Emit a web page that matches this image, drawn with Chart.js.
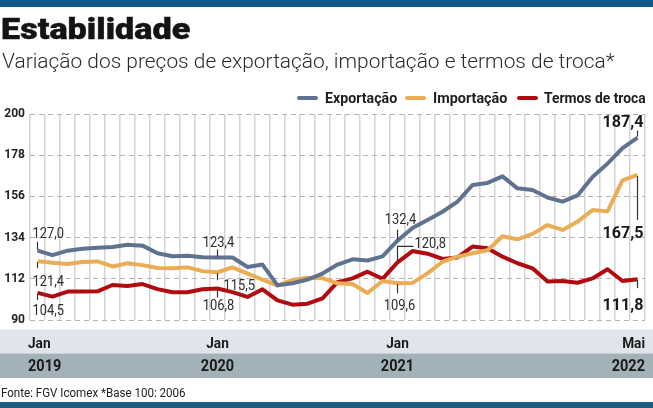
<!DOCTYPE html>
<html><head><meta charset="utf-8">
<script src="https://cdn.jsdelivr.net/npm/chart.js@4.4.1/dist/chart.umd.min.js"></script>
<style>
html,body{margin:0;padding:0;background:#fff;}
body{width:653px;height:408px;position:relative;overflow:hidden;font-family:Roboto,"Liberation Sans",sans-serif;}
#c{position:absolute;left:0;top:0;}
.t{position:absolute;display:inline-block;white-space:nowrap;transform-origin:0 0;line-height:1;}
#topbar{position:absolute;left:0;top:0;width:653px;height:7px;background:#0f5c8a;}
#botbar{position:absolute;left:0;top:402px;width:653px;height:6px;background:#1b5e80;}
#title{left:1px;top:15px;font-size:29.5px;font-weight:900;color:#161412;-webkit-text-stroke:0.4px #161412;}
#sub{left:2px;top:50.5px;font-size:21px;font-weight:300;color:#2a2a2a;}
#src{left:1px;top:386.5px;font-size:12px;color:#222;}
.lg{top:90.5px;font-size:14px;font-weight:bold;color:#1e1e1e;}
.sw{position:absolute;top:95.5px;height:4px;border-radius:2px;}
</style></head>
<body>
<canvas id="c" width="653" height="408"></canvas>
<div id="topbar"></div>
<div class="t" id="title">Estabilidade</div>
<div class="t" id="sub">Variação dos preços de exportação, importação e termos de troca*</div>
<div id="legend"></div>
<div class="t" id="src">Fonte: FGV Icomex *Base 100: 2006</div>
<div id="botbar"></div>
<script>
const months = ['jan/19','fev/19','mar/19','abr/19','mai/19','jun/19','jul/19','ago/19','set/19','out/19','nov/19','dez/19',
  'jan/20','fev/20','mar/20','abr/20','mai/20','jun/20','jul/20','ago/20','set/20','out/20','nov/20','dez/20',
  'jan/21','fev/21','mar/21','abr/21','mai/21','jun/21','jul/21','ago/21','set/21','out/21','nov/21','dez/21',
  'jan/22','fev/22','mar/22','abr/22','mai/22'];
const seriesNames = ['Exportação','Importação','Termos de troca'];
const seriesColors = ['#5f7290','#eaad55','#b10b10'];
const exportacao = [127.0,124.6,127.0,128.0,128.6,129.0,130.2,129.7,125.6,124.0,124.3,123.5,123.4,123.4,118.3,119.6,108.5,109.6,111.6,114.8,119.6,122.4,121.8,124.0,132.4,139.1,143.4,147.8,153.2,162.1,163.2,166.7,160.3,159.4,155.4,153.2,156.5,166.4,173.5,181.8,187.4];
const importacao = [121.4,120.6,119.9,121.0,121.3,118.6,120.3,119.3,117.8,117.6,118.1,116.1,115.5,118.1,114.8,111.6,108.4,111.4,112.6,112.3,109.6,109.2,104.4,110.8,109.6,109.8,114.9,121.1,123.8,125.6,127.2,134.7,133.1,136.0,140.7,138.1,142.5,148.7,148.0,164.6,167.5];
const termosTroca = [104.5,102.5,105.2,105.2,105.3,108.7,108.2,109.2,106.5,104.8,104.8,106.4,106.8,104.9,102.3,106.4,100.5,98.2,98.7,101.6,110.2,112.2,115.8,112.0,120.8,126.8,125.4,122.6,123.4,129.2,128.3,123.8,120.3,117.6,110.5,110.8,109.9,112.2,117.1,110.8,111.8];
const yMin = 90, yMax = 200, yStep = 22;
const xTickAt = ['jan/19','jan/20','jan/21','mai/22'];
const xTickMonth = ['Jan','Jan','Jan','Mai'];
const xTickYear = ['2019','2020','2021','2022'];
const series = [exportacao, importacao, termosTroca];

const FF = 'Roboto, "Liberation Sans", sans-serif';
function fit(el, w){ el.style.transform = 'scaleX(' + (w / el.offsetWidth) + ')'; }
fit(document.getElementById('title'), 189);
fit(document.getElementById('sub'), 613);
fit(document.getElementById('src'), 185);
// legend
const lgSw = [297,405,517], lgTx = [325,433,544], lgW = [72,74,102];
const lg = document.getElementById('legend');
seriesNames.forEach((n,k)=>{
  const s = document.createElement('div'); s.className='sw';
  s.style.left = lgSw[k]+'px'; s.style.width='21px'; s.style.background = seriesColors[k]; lg.appendChild(s);
  const t = document.createElement('div'); t.className='t lg'; t.textContent = n;
  t.style.left = lgTx[k]+'px'; lg.appendChild(t); fit(t, lgW[k]);
});

function fmt(v){ return v.toFixed(1).replace('.', ','); }
function drawText(ctx, text, x, cy, size, weight, color, align, sx){
  ctx.save();
  ctx.font = weight + ' ' + size + 'px ' + FF;
  ctx.fillStyle = color; ctx.textBaseline = 'alphabetic'; ctx.textAlign = 'left';
  const w = ctx.measureText(text).width * sx;
  const left = align === 'left' ? x : align === 'right' ? x - w : x - w/2;
  ctx.translate(left, cy + size*0.711/2);
  ctx.scale(sx, 1);
  ctx.fillText(text, 0, 0);
  ctx.restore();
}
// annotation layout (offsets relative to the data point)
const notes = [
 {s:0,i:0,  tx:-5, ty:-18, align:'left',   path:[[0,-9],[0,-1]]},
 {s:1,i:0,  tx:-5, ty:19,  align:'left',   path:[[0,1],[0,7]]},
 {s:2,i:0,  tx:-5, ty:16.5,align:'left',   path:[[0,1],[0,7]]},
 {s:0,i:12, tx:1,  ty:-16, align:'center', path:[[0,-8],[0,-1]]},
 {s:1,i:12, tx:6,  ty:12,  align:'left',   path:[[0,1],[0,8]]},
 {s:2,i:12, tx:1,  ty:16,  align:'center', path:[[0,1],[0,9]]},
 {s:0,i:24, tx:3,  ty:-22, align:'center', path:[[0,-11],[0,-1]]},
 {s:2,i:24, tx:17, ty:-20, align:'left',   path:[[0,-1],[0,-16],[16,-16]]},
 {s:1,i:24, tx:2,  ty:21,  align:'center', path:[[0,1],[0,10]]},
 {s:0,i:40, tx:6,  ty:-17, align:'right', bold:true, path:[[0,-7],[0,-1]]},
 {s:1,i:40, tx:6,  ty:57,  align:'right', bold:true, path:[[0,1],[0,45]]},
 {s:2,i:40, tx:6,  ty:25,  align:'right', bold:true, path:[[0,1],[0,9]]}
];
const bands = {
  id:'bands',
  beforeDraw(chart){
    const c = chart.ctx, b = chart.chartArea.bottom, W = chart.width;
    c.save();
    c.fillStyle = '#dfe5ea'; c.fillRect(0, b+9.5, W, 24);
    c.fillStyle = '#a3b2b9'; c.fillRect(0, b+33.5, W, 24.5);
    c.restore();
  },
  afterDraw(chart){
    const c = chart.ctx, b = chart.chartArea.bottom, xs = chart.scales.x, ys = chart.scales.y;
    xTickAt.forEach((m,k)=>{
      const px = xs.getPixelForValue(months.indexOf(m));
      const align = k === 0 ? 'left' : (k === xTickAt.length-1 ? 'right' : 'center');
      const x = align === 'left' ? px - 9.5 : align === 'right' ? px + 7.5 : px;
      drawText(c, xTickMonth[k], x, b+22, 15.5, 'bold', '#1a1a1a', align, 0.88);
      drawText(c, xTickYear[k], x, b+45.5, 16.5, 'bold', '#1a1a1a', align, 0.88);
    });
    notes.forEach(n=>{
      const v = series[n.s][n.i];
      const px = xs.getPixelForValue(n.i), py = ys.getPixelForValue(v);
      c.save(); c.strokeStyle = '#333'; c.lineWidth = 1.2; c.beginPath();
      n.path.forEach((p,j)=>{ const X = px+p[0], Y = py+p[1]; j ? c.lineTo(X,Y) : c.moveTo(X,Y); });
      c.stroke(); c.restore();
      if (n.bold) drawText(c, fmt(v), px+n.tx, py+n.ty, 17, 'bold', '#1a1a1a', n.align, 0.95);
      else drawText(c, fmt(v), px+n.tx, py+n.ty, 15, 'normal', '#2e2e2e', n.align, 0.86);
    });
  }
};
new Chart(document.getElementById('c'), {
  type:'line',
  data:{labels:months, datasets: series.map((d,k)=>({label:seriesNames[k], data:d, borderColor:seriesColors[k], backgroundColor:seriesColors[k]}))},
  options:{
    responsive:false, animation:false, devicePixelRatio:1,
    layout:{padding:{top:114,right:8,left:0,bottom:0}},
    plugins:{legend:{display:false}, tooltip:{enabled:false}},
    elements:{point:{radius:0}, line:{borderWidth:4, tension:0, borderJoinStyle:'round', fill:false}},
    scales:{
      x:{type:'category', offset:true, grid:{offset:true, color:'#d4d4d4', lineWidth:1.5, drawTicks:false},
         border:{display:false}, ticks:{display:false, autoSkip:false}, afterFit(s){ s.height = 88; }},
      y:{min:yMin, max:yMax, ticks:{stepSize:yStep, font:{family:FF, weight:'bold', size:12}, color:'#222', padding:5},
         grid:{color:'#b3b3b3', lineWidth:1, drawTicks:false}, border:{display:false, dash:[5,4]},
         afterFit(s){ s.width = 30; }}
    }
  },
  plugins:[bands]
});
</script>
</body></html>
